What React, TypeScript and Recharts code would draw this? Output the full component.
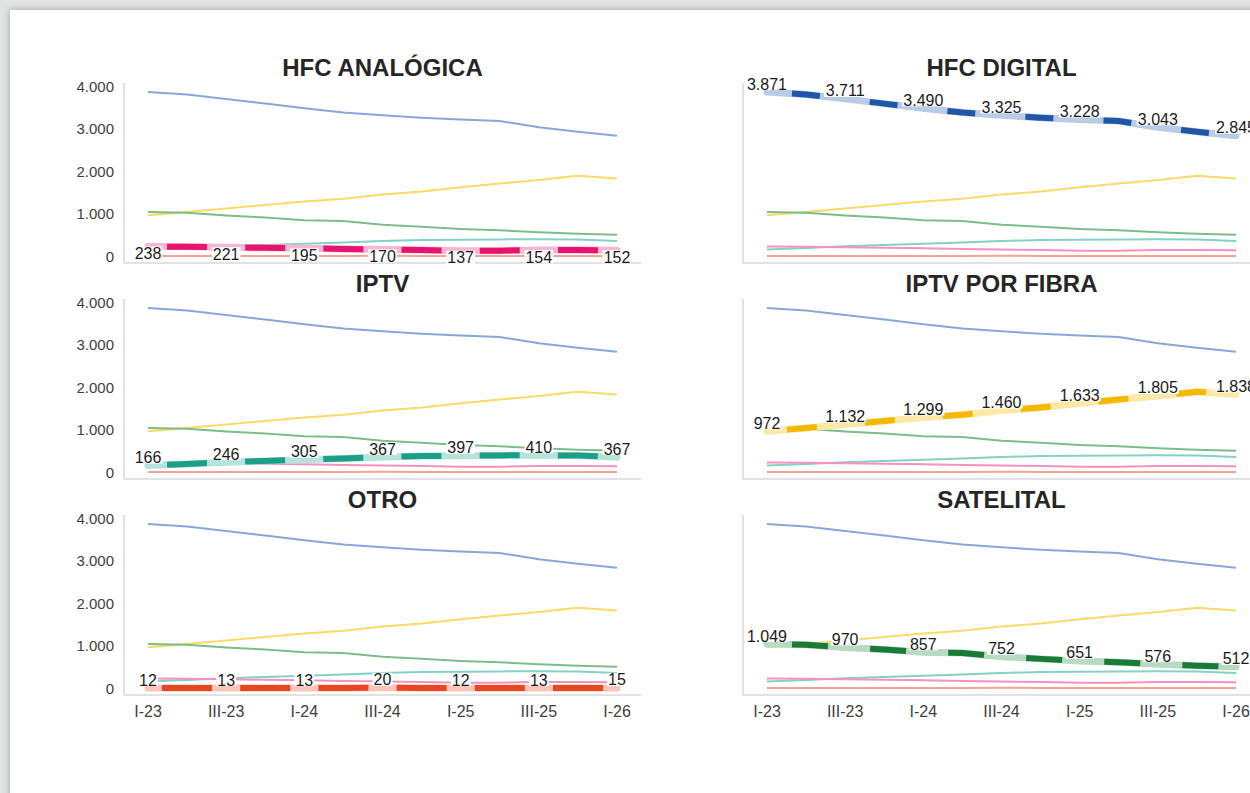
import React from "react";
import { LineChart, Line, XAxis, YAxis, LabelList } from "recharts";

// Trimestres
const QUARTERS = ["I-23", "II-23", "III-23", "IV-23", "I-24", "II-24", "III-24", "IV-24", "I-25", "II-25", "III-25", "IV-25", "I-26"];

// Accesos por tecnología (miles)
const HFC_DIGITAL = [3871, 3815, 3711, 3600, 3490, 3390, 3325, 3270, 3228, 3190, 3043, 2940, 2845];
const IPTV_FIBRA = [972, 1050, 1132, 1215, 1299, 1360, 1460, 1530, 1633, 1720, 1805, 1905, 1838];
const SATELITAL = [1049, 1030, 970, 920, 857, 840, 752, 700, 651, 620, 576, 540, 512];
const IPTV = [166, 205, 246, 275, 305, 335, 367, 390, 397, 405, 410, 400, 367];
const HFC_ANALOGICA = [238, 230, 221, 208, 195, 182, 170, 155, 137, 140, 154, 153, 152];
const OTRO = [12, 12, 13, 13, 13, 16, 20, 15, 12, 12, 13, 14, 15];

const Y_TICKS = [0, 1000, 2000, 3000, 4000];

const FONT = '"Liberation Sans", Arial, sans-serif';

// series in drawing order (thin background lines)
const SERIES = [
  { key: "hfcDig", title: "HFC DIGITAL", values: HFC_DIGITAL, thin: "#8aa6d8", dark: "#1f56a8", under: "#b9cbe6", gap: 25, dash: 28 },
  { key: "fibra", title: "IPTV POR FIBRA", values: IPTV_FIBRA, thin: "#ffd966", dark: "#f5b800", under: "#fde8a8", gap: 20, dash: 30 },
  { key: "sat", title: "SATELITAL", values: SATELITAL, thin: "#7dbd8b", dark: "#1a7a38", under: "#b8dac3", gap: 25, dash: 36 },
  { key: "iptv", title: "IPTV", values: IPTV, thin: "#84d2c3", dark: "#1c9e88", under: "#b4e3da", gap: 19, dash: 40 },
  { key: "hfcAna", title: "HFC ANALÓGICA", values: HFC_ANALOGICA, thin: "#f491be", dark: "#e8136d", under: "#f7b7d3", gap: 19, dash: 40 },
  { key: "otro", title: "OTRO", values: OTRO, thin: "#f4a493", dark: "#e84520", under: "#f8c5b8", gap: 14, dash: 50 },
];

const data = QUARTERS.map((q, i) => {
  const row: any = { q };
  SERIES.forEach((s) => {
    row[s.key] = s.values[i];
    row[s.key + "_lbl"] = i % 2 === 0 ? s.values[i] : null;
  });
  return row;
});

const fmt = (v: number) => String(v).replace(/\B(?=(\d{3})+(?!\d))/g, ".");

const PERIOD = 78.2;

function Panel({ sKey, left, top, showY, showX, labelDy }: { sKey: string; left: number; top: number; showY: boolean; showX: boolean; labelDy: number }) {
  const s = SERIES.find((x) => x.key === sKey)!;

  const rectLabel = (p: any) => {
    if (p.value == null) return null;
    const t = fmt(p.value);
    const dots = (t.match(/\./g) || []).length;
    const w = (t.length - dots) * 8.9 + dots * 4.45 + 2;
    return <rect x={p.x - w / 2} y={p.y + labelDy - 7} width={w} height={13} fill="#ffffff" />;
  };
  const textLabel = (p: any) => {
    if (p.value == null) return null;
    return (
      <text x={p.x} y={p.y + labelDy} textAnchor="middle" dominantBaseline="central" fontSize={16} fill="#1a1a1a" fontFamily={FONT}>
        {fmt(p.value)}
      </text>
    );
  };

  return (
    <div style={{ position: "absolute", left, top }}>
      <div style={{ position: "absolute", left: 60, width: 517, top: -17, textAlign: "center", fontFamily: FONT, fontWeight: "bold", fontSize: 24, lineHeight: "24px", color: "#262626" }}>
        {s.title}
      </div>
      <LineChart width={587} height={220} data={data} margin={{ top: 10, right: 10, bottom: 0, left: 0 }}>
        <XAxis
          dataKey="q"
          height={30}
          interval={1}
          padding={{ left: 24, right: 24 }}
          axisLine={{ stroke: "#d9d9d9", strokeWidth: 1.5 }}
          tickLine={false}
          tickSize={0}
          tickMargin={11}
          tick={showX ? { fill: "#404040", fontSize: 16, fontFamily: FONT } : false}
        />
        <YAxis
          width={60}
          domain={[-150, 4085]}
          ticks={Y_TICKS}
          axisLine={{ stroke: "#d9d9d9", strokeWidth: 1.5 }}
          tickLine={false}
          tickSize={0}
          tickMargin={10}
          tickFormatter={fmt}
          tick={showY ? { fill: "#404040", fontSize: 15, fontFamily: FONT } : false}
        />
        {SERIES.map((t) => (
          <Line key={t.key} dataKey={t.key} stroke={t.thin} strokeWidth={2} dot={false} activeDot={false} isAnimationActive={false} type="linear" />
        ))}
        <Line dataKey={s.key} stroke="none" dot={false} activeDot={false} isAnimationActive={false}>
          <LabelList dataKey={s.key + "_lbl"} content={rectLabel} />
        </Line>
        <Line dataKey={s.key} stroke={s.under} strokeWidth={7} strokeLinecap="round" strokeLinejoin="round" dot={false} activeDot={false} isAnimationActive={false} />
        <Line
          dataKey={s.key}
          stroke={s.dark}
          strokeWidth={6}
          strokeDasharray={`${s.dash} ${PERIOD - s.dash}`}
          strokeDashoffset={PERIOD - s.gap}
          dot={false}
          activeDot={false}
          isAnimationActive={false}
        >
          <LabelList dataKey={s.key + "_lbl"} content={textLabel} />
        </Line>
      </LineChart>
    </div>
  );
}

const PANELS = [
  { sKey: "hfcAna", col: 0, row: 0, labelDy: 7 },
  { sKey: "hfcDig", col: 1, row: 0, labelDy: -8 },
  { sKey: "iptv", col: 0, row: 1, labelDy: -8 },
  { sKey: "fibra", col: 1, row: 1, labelDy: -8 },
  { sKey: "otro", col: 0, row: 2, labelDy: -8 },
  { sKey: "sat", col: 1, row: 2, labelDy: -8 },
];

export default function App() {
  return (
    <div style={{ position: "fixed", left: 0, top: 0, width: 1250, height: 793, overflow: "hidden", background: "#e2e3e5" }}>
      <div style={{ position: "absolute", left: 10, top: 10, width: 1260, height: 800, background: "#ffffff", boxShadow: "0 0 8px rgba(0,0,0,0.28)" }} />
      {PANELS.map((p) => (
        <Panel
          key={p.sKey}
          sKey={p.sKey}
          left={64 + p.col * 619}
          top={73 + p.row * 216}
          showY={p.col === 0}
          showX={p.row === 2}
          labelDy={p.labelDy}
        />
      ))}
    </div>
  );
}
